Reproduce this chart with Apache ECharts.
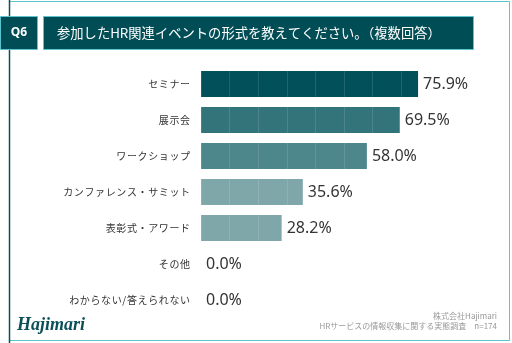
<!DOCTYPE html>
<html><head><meta charset="utf-8">
<script src="https://cdn.jsdelivr.net/npm/echarts@6/dist/echarts.min.js"></script>
<style>html,body{margin:0;padding:0;background:#fff}#c{width:512px;height:343px}</style>
</head><body><div id="c"></div>
<script>
const categories = ['セミナー','展示会','ワークショップ','カンファレンス・サミット','表彰式・アワード','その他','わからない/答えられない'];
const values = [75.9, 69.5, 58.0, 35.6, 28.2, 0.0, 0.0];
const barColors = ['#02505a','#33737a','#4d878c','#7fa7aa','#7fa7aa','#7fa7aa','#7fa7aa'];
const titleText = '参加したHR関連イベントの形式を教えてください。（複数回答）';
const qLabel = 'Q6';
const sourceLines = ['株式会社Hajimari','HRサービスの情報収集に関する実態調査　n=174'];

const chart = echarts.init(document.getElementById('c'), null, {renderer:'canvas'});
const font = '"Noto Sans CJK JP","Noto Sans",sans-serif';
chart.setOption({
  animation:false,
  grid:{left:201, top:66, width:286, height:252, containLabel:false},
  xAxis:[
    {type:'value', min:0, max:100, interval:10, axisLabel:{show:false}, axisLine:{show:false}, axisTick:{show:false}, splitLine:{show:false}},
    {type:'value', min:0, max:100, interval:10, position:'bottom', z:10, axisLabel:{show:false}, axisLine:{show:false}, axisTick:{show:false},
     splitLine:{show:true, lineStyle:{color:'rgba(255,255,255,0.12)', width:1}}}
  ],
  yAxis:{type:'category', data:categories, inverse:true, axisLine:{show:false}, axisTick:{show:false},
    axisLabel:{color:'#333', fontSize:10, fontFamily:font, margin:11,
      formatter: v => v.split('').join('\u200A')}},
  series:[{type:'bar', xAxisIndex:0, data: values.map((v,i)=>({value:v, itemStyle:{color:barColors[i]}})),
    barWidth:26,
    label:{show:true, position:'right', distance:5, color:'#333', fontSize:16, fontFamily:'"Noto Sans",sans-serif',
      formatter: p => p.value.toFixed(1)+'%'}}],
  graphic:[
    {type:'rect', shape:{x:9.5, y:1.5, width:500, height:339}, style:{fill:'none', stroke:'#5cc6d0', lineWidth:1}, silent:true},
    {type:'line', shape:{x1:9.5, y1:0, x2:9.5, y2:343}, style:{stroke:'#0b4f57', lineWidth:1.5}},
    {type:'rect', shape:{x:0.5, y:16.5, width:37, height:33}, style:{fill:'#014d55', stroke:'#5cc6d0', lineWidth:1}},
    {type:'text', x:19, y:33, style:{text:qLabel, fill:'#fff', fontSize:12, fontWeight:'bold', fontFamily:'"Noto Sans",sans-serif', align:'center', verticalAlign:'middle'}},
    {type:'rect', shape:{x:43.5, y:16.5, width:430, height:33}, style:{fill:'#014d55', stroke:'#5cc6d0', lineWidth:1}},
    {type:'text', x:57, y:33, style:{text:titleText, fill:'#fff', fontSize:13.3, fontWeight:'normal', fontFamily:font, verticalAlign:'middle'}},
    {type:'text', x:497, y:316, style:{text:sourceLines[0], fill:'#999', fontSize:8, fontFamily:font, align:'right', verticalAlign:'middle'}},
    {type:'text', x:497, y:326, style:{text:sourceLines[1], fill:'#999', fontSize:8, fontFamily:font, align:'right', verticalAlign:'middle'}},
    {type:'text', x:17, y:325, style:{text:'Hajimari', fill:'#0b4f57', fontSize:18, fontWeight:'bold', fontStyle:'italic', fontFamily:'"Liberation Serif",serif', verticalAlign:'middle'}}
  ]
});
</script></body></html>
